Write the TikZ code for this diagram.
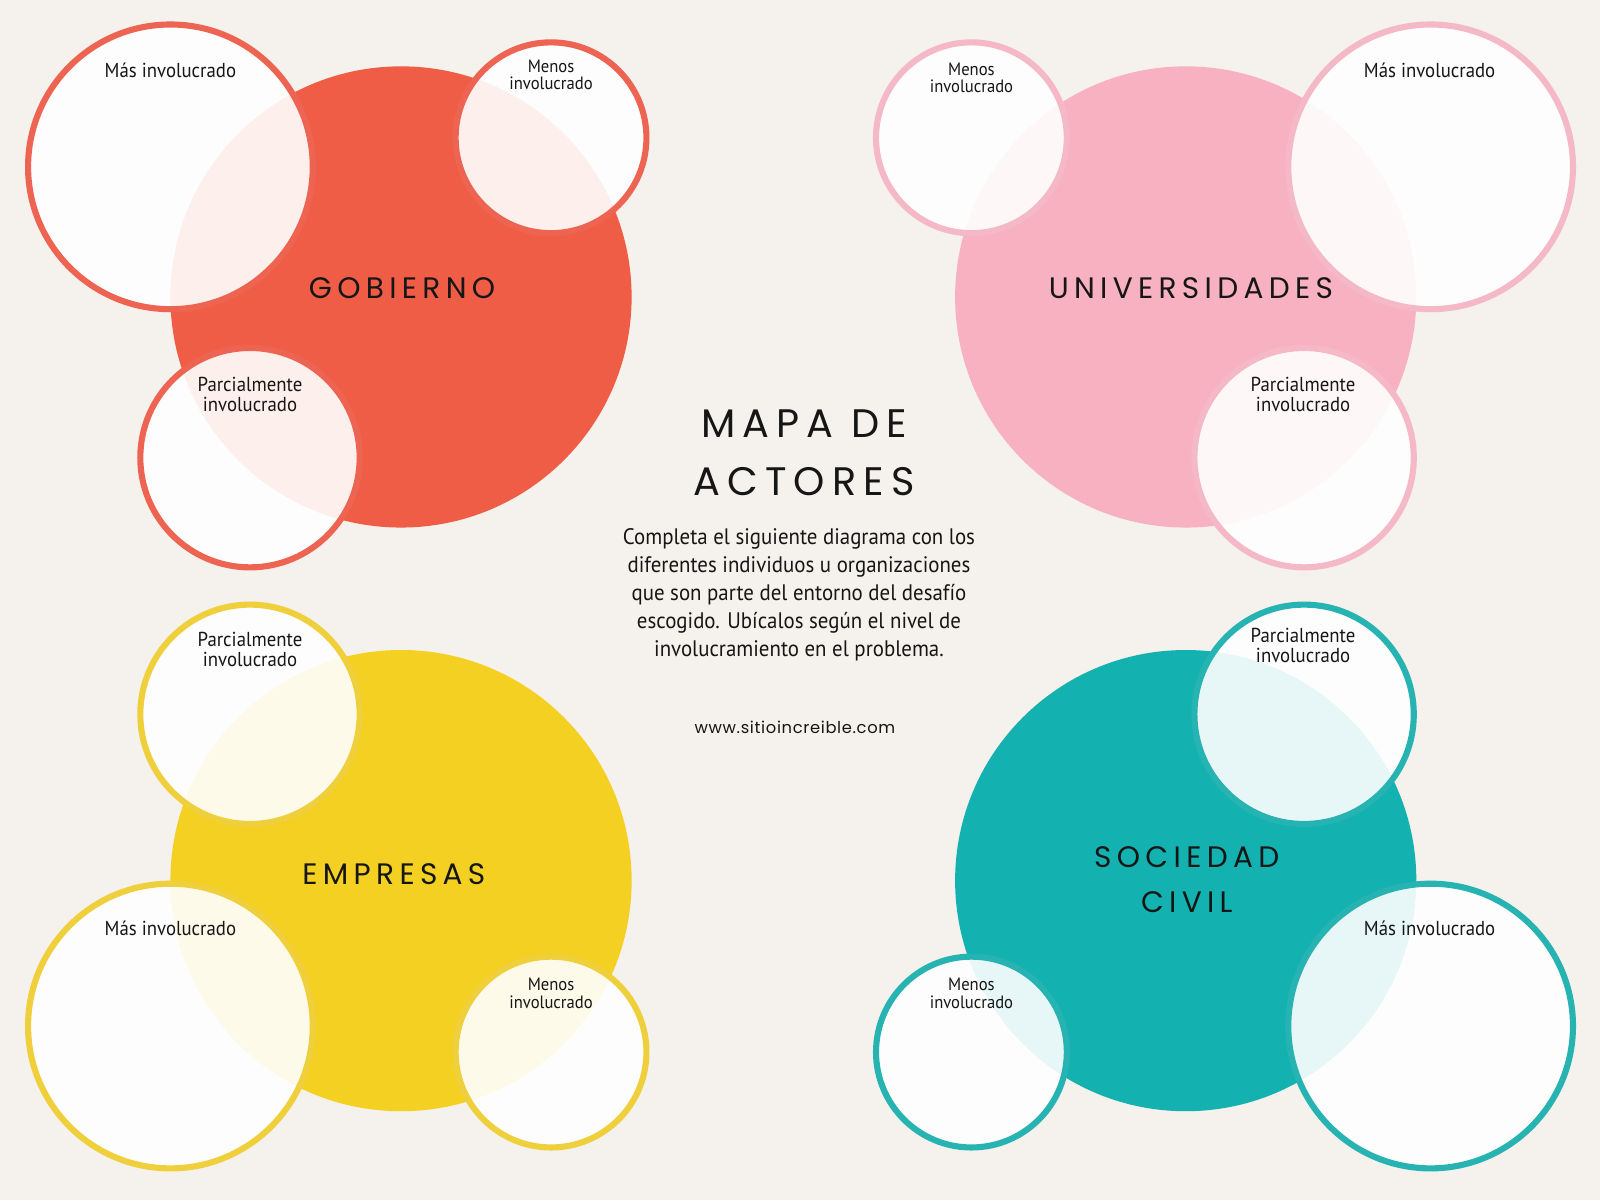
\documentclass[tikz,border=0pt]{standalone}
\usepackage{fontspec}
\setmainfont{PT Sans}
\newfontfamily\labfont[FakeStretch=0.93]{PT Sans}
\newfontfamily\titlefont[LetterSpace=18]{Poppins}
\newfontfamily\urlfont[LetterSpace=4]{Poppins}
\definecolor{bg}{RGB}{245,241,236}
\definecolor{cred}{RGB}{240,93,70}
\definecolor{bred}{RGB}{238,100,82}
\definecolor{cpink}{RGB}{247,177,192}
\definecolor{bpink}{RGB}{245,184,198}
\definecolor{cyel}{RGB}{243,208,34}
\definecolor{byel}{RGB}{240,207,60}
\definecolor{cteal}{RGB}{19,178,176}
\definecolor{bteal}{RGB}{40,179,179}
\definecolor{ink}{RGB}{22,22,22}
\tikzset{
  bigc/.style={circle, inner sep=0pt, minimum size=452pt, fill=#1},
  ring/.style 2 args={circle, inner sep=0pt, minimum size=#1, draw=#2, line width=6pt, fill=white, fill opacity=0.9},
  lab/.style={text=ink, align=center, inner sep=0pt, font=\labfont\fontsize{19.8}{19}\selectfont},
  labs/.style={text=ink, align=center, inner sep=0pt, font=\labfont\fontsize{17.5}{17}\selectfont},
  ttl/.style={text=ink, align=center, inner sep=0pt, font=\titlefont\fontsize{29}{44}\selectfont},
}
\begin{document}
\begin{tikzpicture}[x=1pt,y=-1pt]
\fill[bg] (0,0) rectangle (1568,1176);
\useasboundingbox (0,0) rectangle (1568,1176);
% GOBIERNO
\node[bigc=cred] (gob) at (393,291) {};
\node[ring={279pt}{bred}] (gobmas) at (167,163.5) {};
\node[ring={187pt}{bred}] (gobmen) at (540,135) {};
\node[ring={215pt}{bred}] (gobpar) at (245,448.5) {};
% UNIVERSIDADES
\node[bigc=cpink] (uni) at (1162,291) {};
\node[ring={187pt}{bpink}] (unimen) at (952,135) {};
\node[ring={279pt}{bpink}] (unimas) at (1402,163.5) {};
\node[ring={215pt}{bpink}] (unipar) at (1278,448.5) {};
% EMPRESAS
\node[bigc=cyel] (emp) at (393,863) {};
\node[ring={215pt}{byel}] (emppar) at (245,700) {};
\node[ring={279pt}{byel}] (empmas) at (167,1005.5) {};
\node[ring={187pt}{byel}] (empmen) at (540,1031) {};
% SOCIEDAD CIVIL
\node[bigc=cteal] (soc) at (1162,863) {};
\node[ring={215pt}{bteal}] (socpar) at (1278,700) {};
\node[ring={279pt}{bteal}] (socmas) at (1402,1005.5) {};
\node[ring={187pt}{bteal}] (socmen) at (952,1031) {};
% labels
\node[lab] (l1) at (167,69) {Más involucrado};
\node[labs] (l2) at (540,73.5) {Menos\\involucrado};
\node[lab] (l3) at (245,386.5) {Parcialmente\\involucrado};
\node[labs] (l4) at (952,76) {Menos\\involucrado};
\node[lab] (l5) at (1401,69) {Más involucrado};
\node[lab] (l6) at (1277,386.5) {Parcialmente\\involucrado};
\node[lab] (l7) at (245,636.5) {Parcialmente\\involucrado};
\node[lab] (l8) at (167,910) {Más involucrado};
\node[labs] (l9) at (540,973.5) {Menos\\involucrado};
\node[lab] (l10) at (1277,632.5) {Parcialmente\\involucrado};
\node[lab] (l11) at (1401,910) {Más involucrado};
\node[labs] (l12) at (952,973.5) {Menos\\involucrado};
% titles
\node[ttl] (t1) at (394,282) {GOBIERNO};
\node[ttl] (t2) at (1167,282) {UNIVERSIDADES};
\node[ttl] (t3) at (386,857) {EMPRESAS};
\node[ttl] (t4) at (1163,862) {SOCIEDAD\\CIVIL};
% centre
\node[text=ink, align=center, inner sep=0pt, font=\titlefont\fontsize{39}{57}\selectfont] (main) at (788,443.5) {MAPA DE\\ACTORES};
\node[text=ink, align=center, inner sep=0pt, font=\labfont\fontsize{22}{27.5}\selectfont] (body) at (783,583) {Completa el siguiente diagrama con los\\diferentes individuos u organizaciones\\que son parte del entorno del desafío\\escogido. Ubícalos según el nivel de\\involucramiento en el problema.};
\node[text=ink, inner sep=0pt, font=\urlfont\fontsize{16}{18}\selectfont] (url) at (779,713) {www.sitioincreible.com};
\end{tikzpicture}
\end{document}
